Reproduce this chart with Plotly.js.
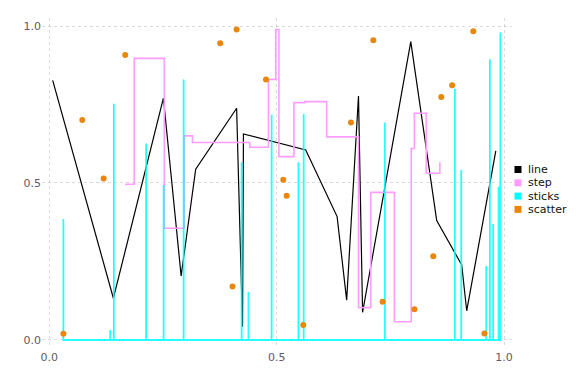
<!DOCTYPE html>
<html>
<head>
<meta charset="utf-8">
<script src="https://cdn.plot.ly/plotly-3.0.1.min.js"></script>
<style>html,body{margin:0;padding:0;background:#fff;}#chart{width:576px;height:384px;}</style>
</head>
<body>
<div id="chart"></div>
<script>
// line series
const lineX = [0.0075, 0.141, 0.251, 0.290, 0.322, 0.412, 0.425, 0.427, 0.564, 0.633, 0.654, 0.680, 0.689, 0.795, 0.852, 0.907, 0.918, 0.982];
const lineY = [0.827, 0.133, 0.770, 0.204, 0.544, 0.738, 0.042, 0.656, 0.605, 0.393, 0.127, 0.777, 0.088, 0.950, 0.380, 0.239, 0.093, 0.602];

// step series (post step)
const stepX = [0.1665, 0.187, 0.253, 0.297, 0.315, 0.441, 0.482, 0.498, 0.505, 0.538, 0.562, 0.610, 0.680, 0.707, 0.759, 0.796, 0.803, 0.829, 0.859];
const stepY = [0.496, 0.897, 0.356, 0.650, 0.629, 0.614, 0.830, 0.989, 0.584, 0.756, 0.759, 0.647, 0.103, 0.470, 0.058, 0.610, 0.722, 0.531, 0.566];

// sticks series
const stickX = [0.031, 0.134, 0.142, 0.213, 0.2515, 0.2955, 0.423, 0.438, 0.489, 0.548, 0.5595, 0.738, 0.892, 0.906, 0.961, 0.969, 0.976, 0.988, 0.992];
const stickY = [0.385, 0.032, 0.752, 0.626, 0.494, 0.830, 0.566, 0.153, 0.717, 0.566, 0.720, 0.693, 0.799, 0.541, 0.236, 0.894, 0.369, 0.488, 0.979];

// scatter series
const scatX = [0.031, 0.0726, 0.1196, 0.167, 0.376, 0.403, 0.412, 0.4766, 0.5146, 0.522, 0.5586, 0.6635, 0.7126, 0.733, 0.803, 0.8445, 0.862, 0.886, 0.9325, 0.957];
const scatY = [0.020, 0.701, 0.514, 0.908, 0.945, 0.170, 0.989, 0.830, 0.510, 0.459, 0.048, 0.693, 0.955, 0.122, 0.098, 0.267, 0.774, 0.811, 0.983, 0.021];

const seriesNames = ["line", "step", "sticks", "scatter"];
const tickVals = [0.0, 0.5, 1.0];
const tickText = ["0.0", "0.5", "1.0"];

const cLine = "#000000", cStep = "#ff9cff", cStick = "#00ffff", cScat = "#e8870a";

// sticks path: from baseline up and back for every stick
const sx = [], sy = [];
for (let i = 0; i < stickX.length; i++) {
  sx.push(stickX[i], stickX[i], stickX[i]);
  sy.push(0, stickY[i], 0);
}

const traces = [
  {x: lineX, y: lineY, mode: "lines", name: seriesNames[0], line: {color: cLine, width: 1.2}, showlegend: false, hoverinfo: "skip"},
  {x: stepX, y: stepY, mode: "lines", name: seriesNames[1], line: {color: cStep, width: 1.6, shape: "hv"}, showlegend: false, hoverinfo: "skip"},
  {x: sx, y: sy, mode: "lines", name: seriesNames[2], line: {color: cStick, width: 1.8}, opacity: 0.85, showlegend: false, hoverinfo: "skip"},
  {x: scatX, y: scatY, mode: "markers", name: seriesNames[3], marker: {color: cScat, size: 6}, showlegend: false, hoverinfo: "skip"}
];

// compact legend (Makie style): small squares + labels to the right of the plot
const legCols = [cLine, cStep, cStick, cScat];
const W = 576, H = 384, mL = 42, mR = 64, mT = 18, mB = 39;
const pw = W - mL - mR, ph = H - mT - mB;
const px2x = p => (p - mL) / pw;
const px2y = p => (H - mB - p) / ph;
const legTop = 169.5, legStep = 13.3, sqX = 518, sqHalf = 3.5, txtX = 525.5;
const annotations = [], shapes = [];
for (let i = 0; i < seriesNames.length; i++) {
  const cy = legTop + i * legStep;
  shapes.push({type: "rect", xref: "paper", yref: "paper",
    x0: px2x(sqX - sqHalf), x1: px2x(sqX + sqHalf), y0: px2y(cy + sqHalf), y1: px2y(cy - sqHalf),
    fillcolor: legCols[i], line: {width: 0}});
  annotations.push({xref: "paper", yref: "paper", x: px2x(txtX), y: px2y(cy),
    xanchor: "left", yanchor: "middle", showarrow: false, text: seriesNames[i],
    font: {family: "DejaVu Sans", size: 11, color: "#111"}});
}

const axisCommon = {
  showline: false, zeroline: false, ticks: "",
  showgrid: true, gridcolor: "rgba(0,0,0,0.14)", griddash: "dot", gridwidth: 1,
  tickvals: tickVals, ticktext: tickText,
  tickfont: {family: "DejaVu Sans", size: 11, color: "#5f5a66"}
};

const layout = {
  width: W, height: H,
  margin: {l: mL, r: mR, t: mT, b: mB, autoexpand: false},
  paper_bgcolor: "#fff", plot_bgcolor: "#fff",
  xaxis: Object.assign({}, axisCommon, {range: [-0.016, 1.0176], ticklabelstandoff: 4}),
  yaxis: Object.assign({}, axisCommon, {range: [-0.016, 1.0255]}),
  showlegend: false,
  annotations: annotations,
  shapes: shapes
};

Plotly.newPlot("chart", traces, layout, {staticPlot: true, displayModeBar: false});
</script>
</body>
</html>
